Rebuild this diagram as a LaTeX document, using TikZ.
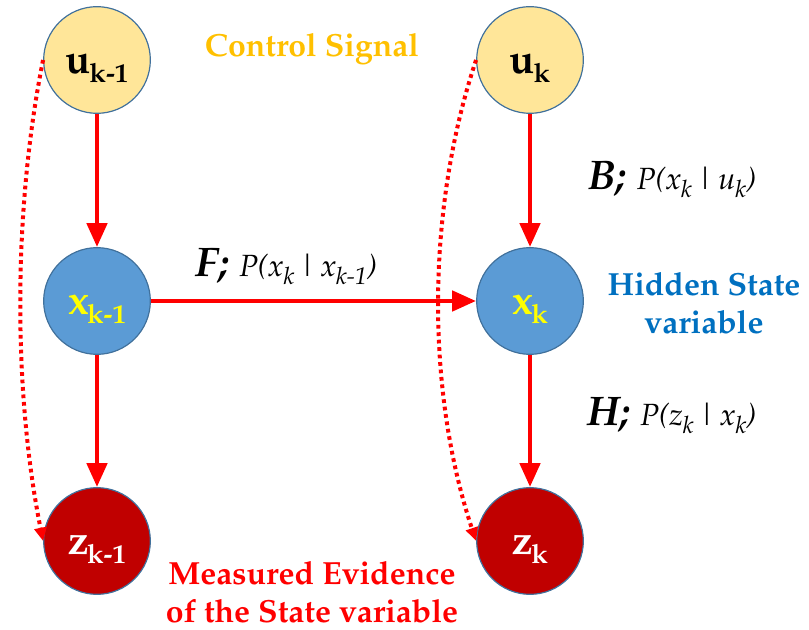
\documentclass[tikz,border=0pt]{standalone}
\usepackage[T1]{fontenc}
\usepackage{mathpazo}
\usetikzlibrary{arrows.meta}
\definecolor{ufill}{HTML}{FFE699}
\definecolor{xfill}{HTML}{5B9BD5}
\definecolor{zfill}{HTML}{C00000}
\definecolor{rim}{HTML}{41719C}
\definecolor{gold}{HTML}{FFC000}
\definecolor{blu}{HTML}{0070C0}
\definecolor{xlab}{HTML}{FFFF00}
\definecolor{arr}{HTML}{FF0000}
\newcommand\nlab[2]{\fontsize{31}{31}\selectfont\bfseries\rule{0pt}{27pt}#1\kern-1pt\raisebox{-7pt}{\fontsize{20}{20}\selectfont #2}}
\newcommand\sbx[1]{\raisebox{-6pt}{\fontsize{18}{18}\selectfont #1}}
\newcommand\elab[3]{\fontsize{23}{23}\selectfont{\fontsize{31}{31}\selectfont\bfseries\itshape #1;}\kern8pt\itshape P(#2\kern3pt|\kern3pt#3)}
\begin{document}
\begin{tikzpicture}[x=0.75pt,y=-0.75pt,
  var/.style={circle,draw=rim,line width=0.9pt,minimum size=80pt,inner sep=0pt},
  uvar/.style={var,fill=ufill,text=black},
  xvar/.style={var,fill=xfill,text=xlab},
  zvar/.style={var,fill=zfill,text=white},
  flow/.style={draw=arr,line width=3.6pt,-{Triangle[length=18pt,width=15pt]}},
  hint/.style={draw=arr,line width=3pt,dash pattern=on 2.8pt off 2.8pt,-{Triangle[length=10pt,width=9pt]}},
  note/.style={font=\fontsize{24}{28}\selectfont\bfseries,align=center,inner sep=0pt}]
\useasboundingbox (0,0) rectangle (809,630);
\node[uvar] (u1) at (97,60) {\nlab{u}{k-1}};
\node[xvar] (x1) at (97,301) {\nlab{x}{k-1}};
\node[zvar] (z1) at (97,541) {\nlab{z}{k-1}};
\node[uvar] (u2) at (530,60) {\nlab{u}{k}};
\node[xvar] (x2) at (530,301) {\nlab{x}{k}};
\node[zvar] (z2) at (530,541) {\nlab{z}{k}};
\draw[flow] (u1) -- (x1);
\draw[flow] (x1) -- (z1);
\draw[flow] (u2) -- (x2);
\draw[flow] (x2) -- (z2);
\draw[flow] (x1) -- (x2);
\draw[hint] (u1.west) .. controls +(-30,150) and +(-30,-150) .. (z1.west);
\draw[hint] (u2.west) .. controls +(-50,150) and +(-50,-150) .. (z2.west);
\node[anchor=base west,inner sep=0pt] (lf) at (195,277) {\elab{F}{x\sbx{k}}{x\sbx{k-1}}};
\node[anchor=base west,inner sep=0pt] (lb) at (588,190) {\elab{B}{x\sbx{k}}{u\sbx{k}}};
\node[anchor=base west,inner sep=0pt] (lh) at (587,425) {\elab{H}{z\sbx{k}}{x\sbx{k}}};
\node[note,text=gold,anchor=base] (cs) at (312,57) {Control Signal};
\node[note,text=blu] (hs) at (704,303) {Hidden State\\variable};
\node[note,text=arr] (me) at (312,592) {Measured Evidence\\of the State variable};
\end{tikzpicture}
\end{document}
